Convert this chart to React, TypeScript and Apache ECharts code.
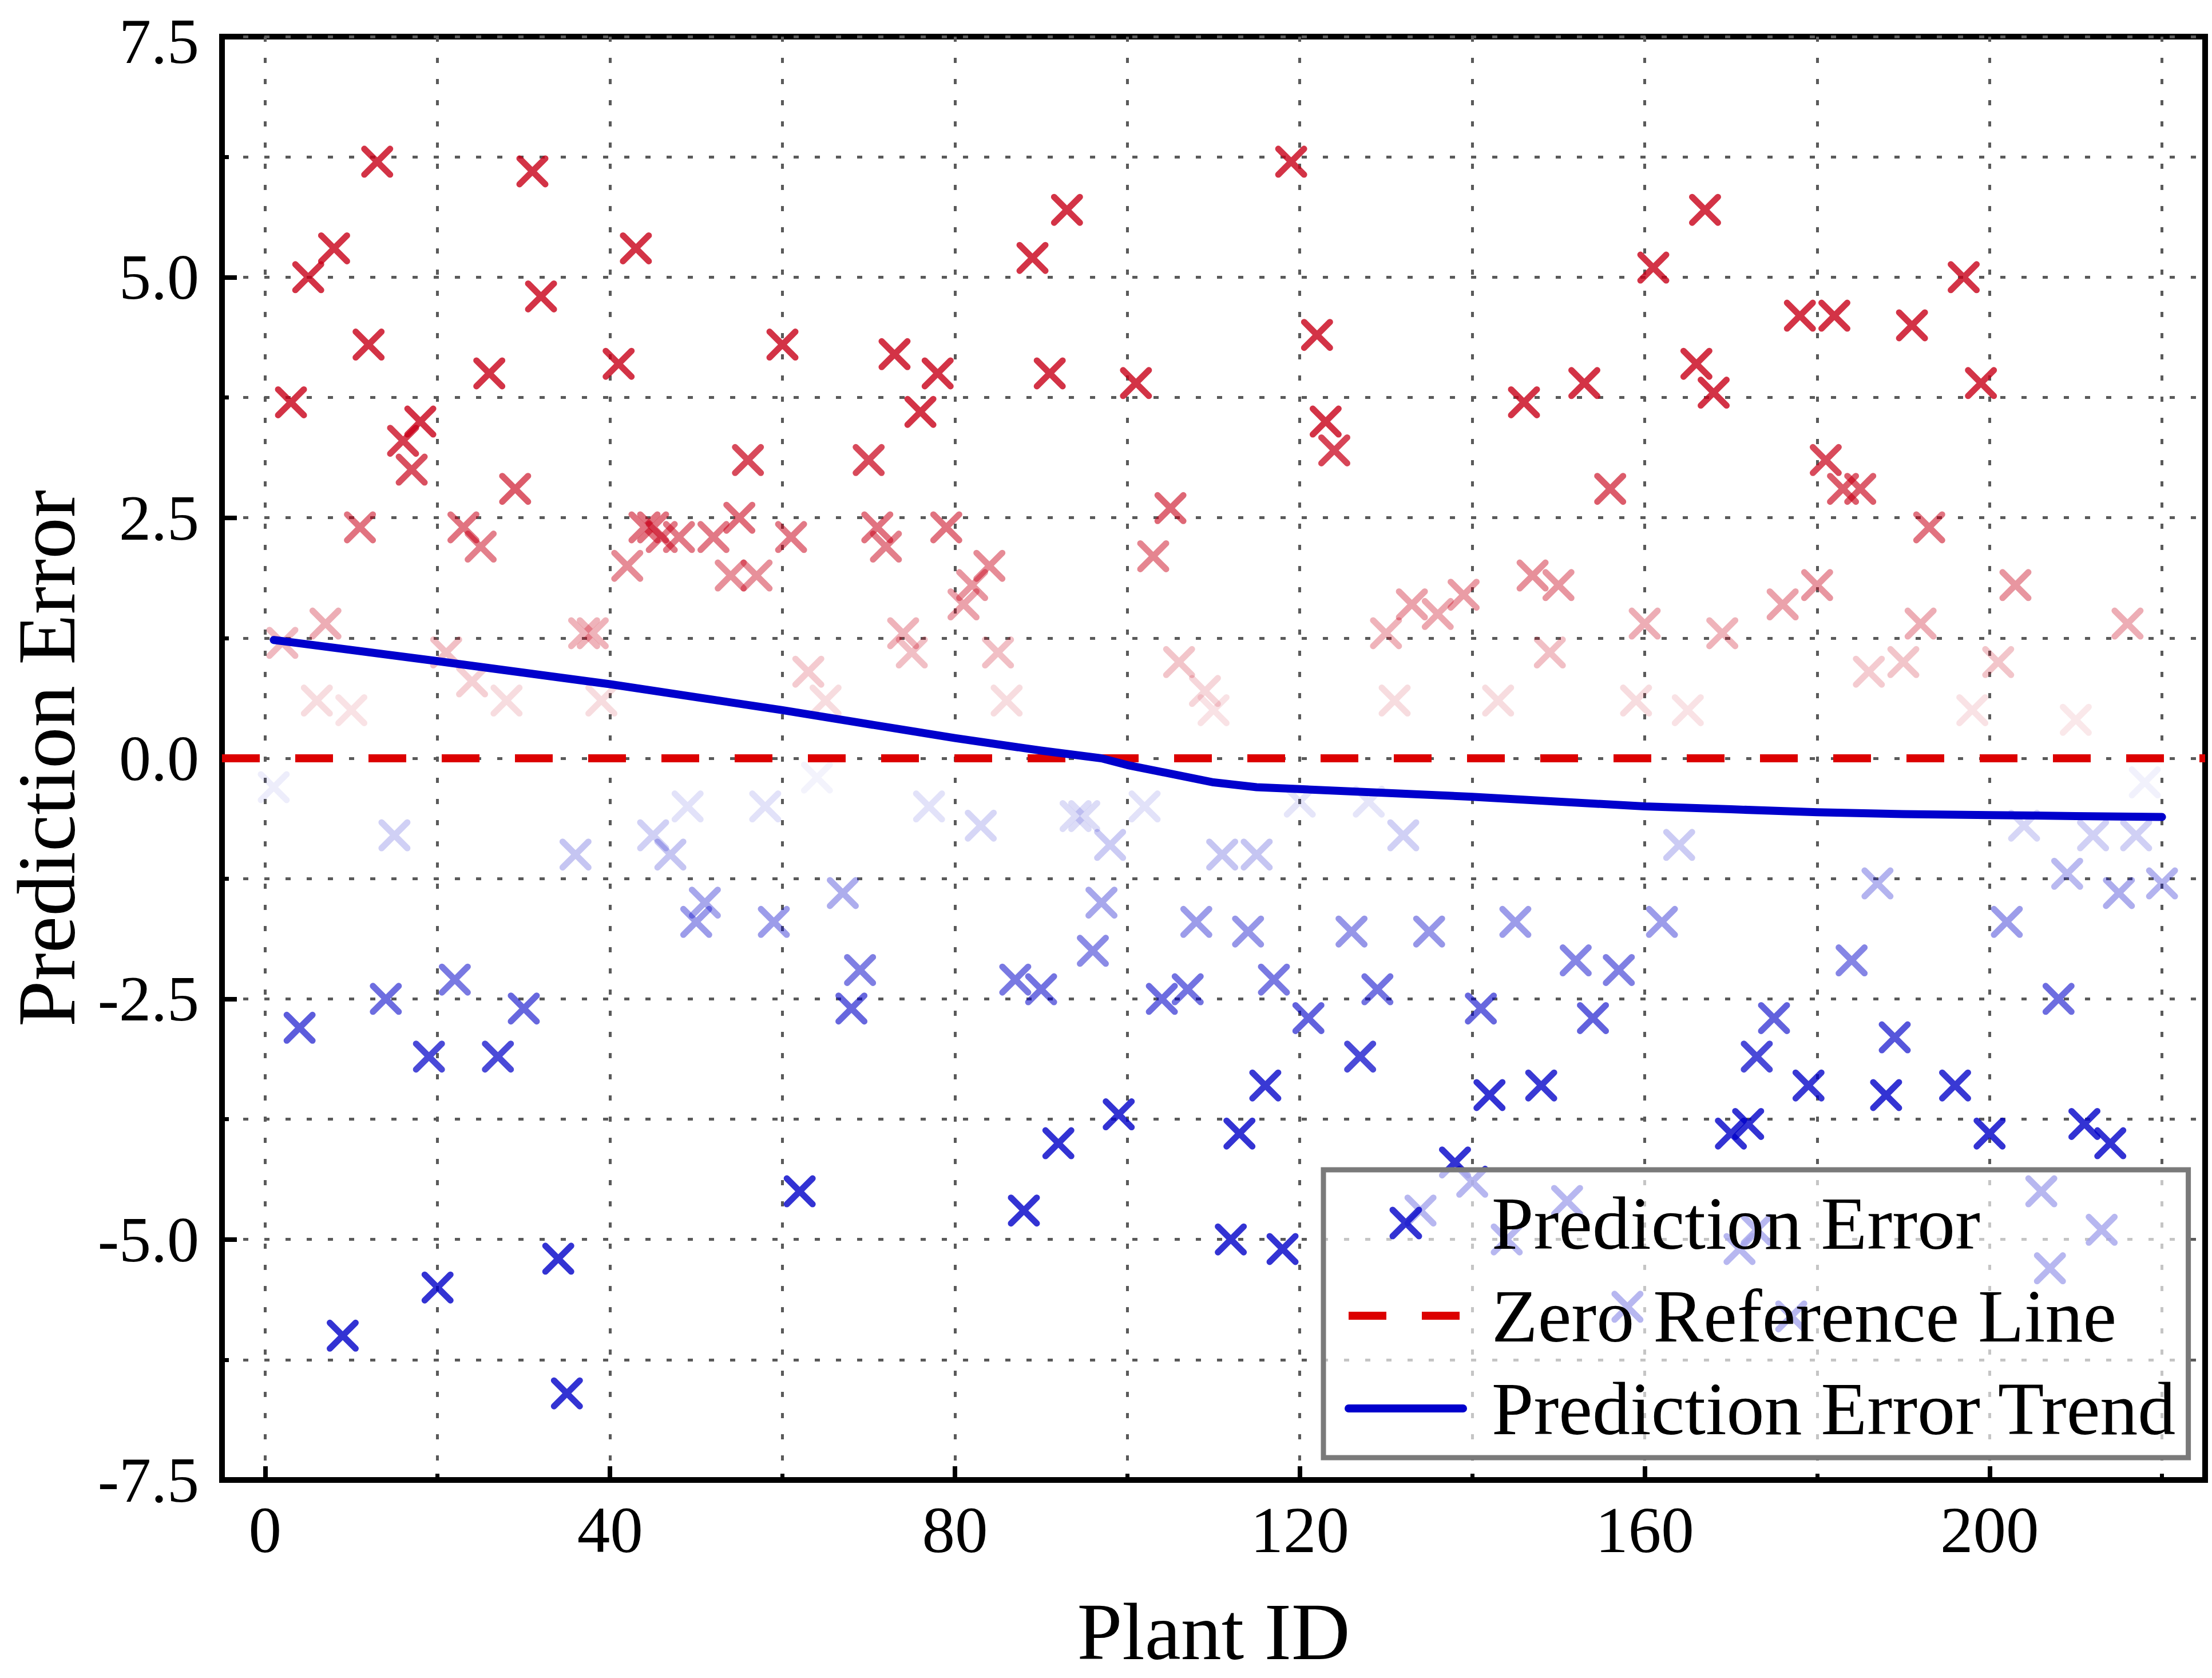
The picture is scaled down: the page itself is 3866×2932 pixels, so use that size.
import React, { useEffect, useRef } from 'react';
import * as echarts from 'echarts';

// ---- Data ----
const plantIds = [
  1, 2, 3, 4, 5, 6, 7, 8, 9, 10, 11, 12, 13, 14, 15, 16, 17, 18, 19, 20,
  21, 22, 23, 24, 25, 26, 27, 28, 29, 30, 31, 32, 34, 35, 36, 37, 38, 39, 41, 42,
  43, 44, 45, 45, 46, 47, 48, 49, 50, 51, 52, 54, 55, 56, 57, 58, 59, 60, 61, 62,
  63, 64, 65, 67, 68, 69, 70, 71, 72, 73, 74, 75, 76, 77, 78, 79, 81, 82, 83, 84,
  85, 86, 87, 88, 89, 90, 91, 92, 93, 94, 95, 96, 97, 98, 99, 101, 102, 103, 104, 105,
  106, 107, 108, 109, 110, 111, 112, 113, 114, 115, 116, 117, 118, 119, 120, 121, 122, 123, 124, 126,
  127, 128, 129, 130, 131, 132, 133, 134, 135, 136, 138, 139, 140, 141, 142, 143, 144, 145, 146, 147,
  148, 149, 150, 151, 152, 153, 154, 156, 157, 158, 159, 160, 161, 162, 164, 165, 166, 167, 168, 169,
  170, 171, 172, 173, 173, 175, 176, 177, 178, 179, 180, 181, 182, 183, 184, 185, 186, 187, 188, 189,
  190, 191, 192, 193, 196, 197, 198, 199, 200, 201, 202, 203, 204, 206, 207, 208, 209, 210, 211, 212,
  213, 214, 215, 216, 217, 218, 220,
];

const predictionErrors = [
  -0.3, 1.2, 3.7, -2.8, 5.0, 0.6, 1.4, 5.3, -6.0, 0.5, 2.4, 4.3, 6.2, -2.5, -0.8, 3.3, 3.0, 3.5, -3.1, -5.5,
  1.1, -2.3, 2.4, 0.8, 2.2, 4.0, -3.1, 0.6, 2.8, -2.6, 6.1, 4.8, -5.2, -6.6, -1.0, 1.3, 1.3, 0.6, 4.1, 2.0,
  5.3, 2.4, 2.4, -0.8, 2.3, -1.0, 2.3, -0.5, -1.7, -1.5, 2.3, 1.9, 2.5, 3.1, 1.9, -0.5, -1.7, 4.3, 2.3, -4.5,
  0.9, -0.2, 0.6, -1.4, -2.6, -2.2, 3.1, 2.4, 2.2, 4.2, 1.3, 1.1, 3.6, -0.5, 4.0, 2.4, 1.6, 1.8, -0.7, 2.0,
  1.1, 0.6, -2.3, -4.7, 5.2, -2.4, 4.0, -4.0, 5.7, -0.6, -0.6, -2.0, -1.5, -0.9, -3.7, 3.9, -0.5, 2.1, -2.5, 2.6,
  1.0, -2.4, -1.7, 0.7, 0.5, -1.0, -5.0, -3.9, -1.8, -1.0, -3.4, -2.3, -5.1, 6.2, -0.45, -2.7, 4.4, 3.5, 3.2, -1.8,
  -3.1, -0.45, -2.4, 1.3, 0.6, -0.8, 1.6, -4.7, -1.8, 1.5, -4.2, 1.7, -4.4, -2.6, -3.5, 0.6, -5.0, -1.7, 3.7, 1.9,
  -3.4, 1.1, 1.8, -4.6, -2.1, 3.9, -2.7, 2.8, -2.2, -5.7, 0.6, 1.4, 5.1, -1.7, -0.9, 0.5, 4.1, 5.7, 3.8, 1.3,
  -3.9, -5.1, -3.8, -3.1, -4.9, -2.7, 1.6, -5.8, 4.6, -3.4, 1.8, 3.1, 4.6, 2.8, -2.1, 2.8, 0.9, -1.3, -3.5, -2.9,
  1.0, 4.5, 1.4, 2.4, -3.4, 5.0, 0.5, 3.9, -3.9, 1.0, -1.7, 1.8, -0.7, -4.5, -5.3, -2.5, -1.2, 0.4, -3.8, -0.8,
  -4.9, -4.0, -1.4, 1.4, -0.8, -0.25, -1.3,
];

const trendIds = [1, 20, 40, 60, 80, 90, 97, 100, 105, 110, 115, 120, 130, 140, 150, 160, 170, 180, 190, 200, 210, 220];
const trendValues = [1.23, 1.01, 0.77, 0.5, 0.21, 0.08, 0.0, -0.07, -0.16, -0.25, -0.3, -0.32, -0.36, -0.4, -0.45, -0.5, -0.53, -0.56, -0.58, -0.59, -0.6, -0.61];

const zeroLineIds = [-5, 225];
const zeroLineValues = [0, 0];

const xMajorTicks = [0, 40, 80, 120, 160, 200];
const xGridTicks = [0, 20, 40, 60, 80, 100, 120, 140, 160, 180, 200, 220];

const FONT = 'Liberation Serif';
const RED = [200, 0, 24];
const BLUE = [0, 0, 200];
const X_SYMBOL = 'path://M0,0L10,10M10,0L0,10';
const Y_MAX = 7.5;

function markerColor(v: number): string {
  const a = Math.min(1, Math.abs(v) / 3.5);
  const c = v >= 0 ? RED : BLUE;
  return `rgba(${c[0]},${c[1]},${c[2]},${a.toFixed(3)})`;
}

const gridLineStyle = { color: '#5a5a5a', width: 5, type: [9, 28] as number[] };
const hiddenSymbolStyle = { color: 'rgba(0,0,0,0)', borderColor: 'rgba(0,0,0,0)', borderWidth: 0 };

export default function App() {
  const ref = useRef<HTMLDivElement>(null);

  useEffect(() => {
    if (!ref.current) return;
    const chart = echarts.init(ref.current, undefined, { renderer: 'svg' });

    const scatterData = plantIds.map((id, i) => ({
      value: [id, predictionErrors[i]],
      itemStyle: { borderColor: markerColor(predictionErrors[i]) },
    }));

    const option: any = {
      animation: false,
      backgroundColor: '#ffffff',
      grid: {
        left: 380,
        top: 58,
        right: 12,
        bottom: 346,
        show: true,
        borderColor: '#000000',
        borderWidth: 10,
        backgroundColor: 'rgba(0,0,0,0)',
      },
      xAxis: [
        {
          type: 'value',
          min: -5,
          max: 225,
          position: 'bottom',
          name: 'Plant ID',
          nameLocation: 'middle',
          nameGap: 205,
          nameTextStyle: { fontFamily: FONT, fontSize: 142, lineHeight: 120, color: '#000' },
          axisLine: { show: true, onZero: false, lineStyle: { color: '#000', width: 10 } },
          axisTick: { show: true, inside: true, length: 24, customValues: xMajorTicks, lineStyle: { color: '#000', width: 8 } },
          axisLabel: {
            show: true,
            customValues: xMajorTicks,
            margin: 30,
            fontFamily: FONT,
            fontSize: 115,
            color: '#000',
          },
          splitLine: { show: false },
        },
        {
          type: 'value',
          min: -5,
          max: 225,
          position: 'bottom',
          axisLine: { show: false, onZero: false },
          axisTick: { show: true, inside: true, length: 11, customValues: xGridTicks, lineStyle: { color: '#000', width: 7 } },
          axisLabel: { show: false },
          splitLine: { show: true, lineStyle: gridLineStyle },
        },
      ],
      yAxis: {
        type: 'value',
        min: -Y_MAX,
        max: Y_MAX,
        interval: 2.5,
        name: 'Prediction Error',
        nameLocation: 'middle',
        nameGap: 235,
        nameTextStyle: { fontFamily: FONT, fontSize: 145, color: '#000' },
        axisLine: { show: true, onZero: false, lineStyle: { color: '#000', width: 10 } },
        axisTick: { show: true, inside: true, length: 26, lineStyle: { color: '#000', width: 8 } },
        minorTick: { show: true, splitNumber: 2, length: 12, lineStyle: { color: '#000', width: 7 } },
        axisLabel: {
          margin: 40,
          fontFamily: FONT,
          fontSize: 112,
          lineHeight: 88,
          color: '#000',
          formatter: (v: number) => (v === Y_MAX ? `{top|${v.toFixed(1)}}` : v.toFixed(1)),
          rich: {
            top: { fontFamily: FONT, fontSize: 112, lineHeight: 88, color: '#000', padding: [16, 0, 0, 0] },
          },
        },
        splitLine: { show: true, lineStyle: gridLineStyle },
        minorSplitLine: { show: true, lineStyle: gridLineStyle },
      },
      legend: {
        orient: 'vertical',
        left: 2313,
        top: 2044,
        padding: [27, 20, 20, 37],
        itemWidth: 200,
        itemHeight: 46,
        itemGap: 30,
        backgroundColor: 'rgba(255,255,255,0.65)',
        borderColor: '#7a7a7a',
        borderWidth: 9,
        selectedMode: false,
        z: 10,
        textStyle: { fontFamily: FONT, fontSize: 132, color: '#000', padding: [0, 0, 0, 45] },
        data: [
          {
            name: 'Prediction Error',
            itemStyle: { color: 'rgba(0,0,0,0)', borderColor: '#0000C8', borderWidth: 11, borderCap: 'round' },
          },
          {
            name: 'Zero Reference Line',
            itemStyle: hiddenSymbolStyle,
            lineStyle: { color: '#DC0000', width: 14, type: [66, 62] },
          },
          {
            name: 'Prediction Error Trend',
            itemStyle: hiddenSymbolStyle,
            lineStyle: { color: '#0000CC', width: 14, type: 'solid' },
          },
        ],
      },
      series: [
        {
          name: 'Prediction Error',
          type: 'scatter',
          xAxisIndex: 0,
          symbol: X_SYMBOL,
          symbolSize: 45,
          symbolKeepAspect: true,
          z: 2,
          itemStyle: { color: 'rgba(0,0,0,0)', borderColor: '#0000C8', borderWidth: 11, borderCap: 'round' },
          emphasis: { disabled: true },
          data: scatterData,
        },
        {
          name: 'Zero Reference Line',
          type: 'line',
          xAxisIndex: 0,
          symbol: 'none',
          z: 3,
          lineStyle: { color: '#DC0000', width: 14, type: [66, 62] },
          itemStyle: { color: '#DC0000' },
          data: zeroLineIds.map((x, i) => [x, zeroLineValues[i]]),
        },
        {
          name: 'Prediction Error Trend',
          type: 'line',
          xAxisIndex: 0,
          symbol: 'none',
          z: 4,
          lineStyle: { color: '#0000CC', width: 14, cap: 'round', join: 'round' },
          itemStyle: { color: '#0000CC' },
          data: trendIds.map((x, i) => [x, trendValues[i]]),
        },
      ],
    };

    chart.setOption(option);
    return () => chart.dispose();
  }, []);

  return (
    <div
      ref={ref}
      style={{ position: 'fixed', left: 0, top: 0, width: '3866px', height: '2932px', background: '#fff' }}
    />
  );
}
